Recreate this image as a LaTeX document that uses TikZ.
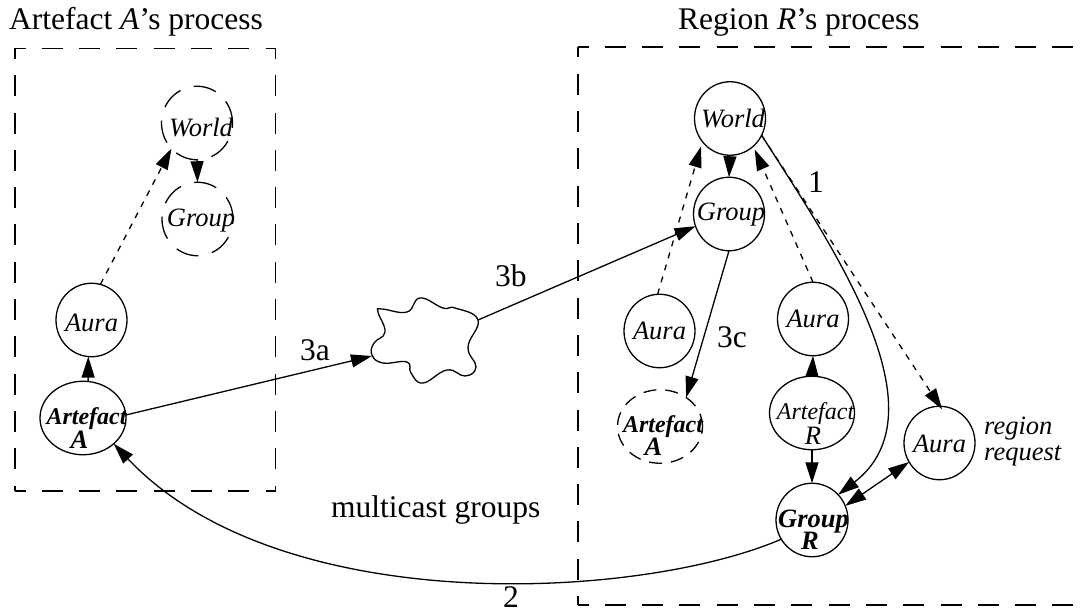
\documentclass[tikz,border=0pt]{standalone}
\usepackage{fontspec}
\setmainfont{Liberation Serif}
\usetikzlibrary{arrows.meta,shapes.geometric}
\newcommand\nt[3]{\makebox[0pt]{\kern\dimexpr #1pt*2\relax\makebox[0pt]{\raisebox{-#2pt}[0pt][0pt]{#3}}}}
\newcommand\af{\fontsize{24}{24}\selectfont}
\tikzset{
  ln/.style={line width=1.3pt},
  head/.style={-{Triangle[length=21pt,width=13pt]}},
  ball/.style={ln,draw,ellipse,inner sep=0pt,outer sep=0pt,minimum width=#1,minimum height=73.5pt,font=\fontsize{26.5}{26.5}\selectfont\itshape},
  ball/.default=71pt,
  ghost/.style={ball,dash pattern=on 23pt off 14pt},
  ghostb/.style={ball=85pt,dash pattern=on 13pt off 9pt},
  boxline/.style={ln,dash pattern=on 21pt off 16.3pt,dash phase=10.5pt},
  arr/.style={ln,head},
  dots/.style={ln,dash pattern=on 6pt off 6.5pt,-{Triangle[length=21pt,width=13pt,sep=0pt]}},
  lab/.style={anchor=base west,inner sep=0pt,font=\fontsize{31.5}{31.5}\selectfont},
}
\begin{document}
\begin{tikzpicture}[x=1pt,y=-1pt]
\useasboundingbox (0,0) rectangle (1082,612);
% titles and labels
\node[lab] (t1) at (9,30) {Artefact \textit{A}’s process};
\node[lab] (t2) at (678,30) {Region \textit{R}’s process};
\node[lab] (mg) at (331,517) {multicast groups};
\node[lab] (l2) at (503,607) {2};
\node[lab] (l1) at (808,193) {1};
\node[lab] (l3a) at (300,361) {3a};
\node[lab] (l3b) at (495,287) {3b};
\node[lab] (l3c) at (717,348) {3c};
\node[anchor=west,align=left,inner sep=0pt,font=\fontsize{26.5}{26}\selectfont\itshape] (rr) at (984,442) {region\\request};
% process boxes
\coordinate (ltl) at (15,48.5); \coordinate (ltr) at (275.5,48.5);
\coordinate (lbl) at (15,491); \coordinate (lbr) at (275.5,491);
\draw[boxline] (ltl) -- (ltr);
\draw[boxline] (ltl) -- (lbl);
\draw[boxline] (lbl) -- (lbr);
\draw[boxline] (ltr) -- (lbr);
\coordinate (rtl) at (578,47); \coordinate (rtr) at (1082,47);
\coordinate (rbl) at (578,605); \coordinate (rbr) at (1082,605);
\draw[boxline] (rtl) -- (rtr);
\draw[boxline] (rtl) -- (rbl);
\draw[boxline] (rbl) -- (rbr);
% left nodes
\node[ghost] (wA) at (197,123) {\nt{4}{13.5}{World}};
\node[ghost] (gA) at (197.5,219) {\nt{3.5}{8}{Group}};
\node[ball] (auA) at (91.5,320) {\nt{0}{12}{Aura}};
\node[ball=86pt] (aA) at (83,418) {\nt{3.5}{6}{\af\bfseries Artefact}\nt{-3.5}{30}{\bfseries A}};
% right nodes
\node[ball] (wR) at (730,118.5) {\nt{3}{9.5}{World}};
\node[ball] (gR0) at (729,214) {\nt{2}{7}{Group}};
\node[ball] (au1) at (659.5,331) {\nt{0}{9}{Aura}};
\node[ball] (au2) at (813,319) {\nt{0}{9}{Aura}};
\node[ghostb] (aG) at (660,426.5) {\nt{3}{5.5}{\af\bfseries Artefact}\nt{-6.5}{29}{\bfseries A}};
\node[ball=85pt] (aR) at (812,413) {\nt{3.5}{6}{\af Artefact}\nt{1}{32}{R}};
\node[ball=72pt] (gR) at (812,520) {\nt{1.5}{7}{\bfseries Group}\nt{-2}{29}{\bfseries R}};
\node[ball] (au3) at (939.5,443) {\nt{0}{9}{Aura}};
% network cloud
\draw[ln] plot[smooth cycle,tension=0.75] coordinates {(372,355) (374,343) (385,332) (378,312) (382,309) (407,312) (420,298) (443,308) (455,308) (478,320) (468,347) (476,367) (465,376) (447,370) (423,383) (411,373) (407,362) (383,363)};
\coordinate (cl) at (372,356);
\coordinate (cr) at (478,320);
% left connectors
\draw[dots] (auA.76) -- (wA.225);
\draw[arr] (wA.south) -- (gA.north);
\draw[arr] (aA.82) -- (auA.265);
\draw[arr] (aA.4) -- (cl);
% network connectors
\draw[arr] (cr) -- (gR0.200);
\draw[arr] (gR0.south) -- (aG.48);
% right connectors
\draw[arr] (wR.south) -- (gR0.north);
\draw[dots,shorten >=5pt] (au1.93) -- (wR.220);
\draw[dots,shorten >=3.5pt] (au2.90) -- (wR.-50);
\draw[dots] (wR.-28) -- ([yshift=-3pt]au3.86);
\draw[arr] (aR.north) -- (au2.south);
\draw[arr] (aR.south) -- (gR.north);
\draw[arr] (wR.-28) .. controls (835,250) and (945,412) .. (gR.44);
\draw[ln,{Triangle[length=21pt,width=13pt]}-{Triangle[length=21pt,width=13pt]}] (au3.212) -- (gR.23);
\draw[arr] (gR.212) .. controls (640,600) and (280,620) .. (aA.-40);
\end{tikzpicture}
\end{document}
